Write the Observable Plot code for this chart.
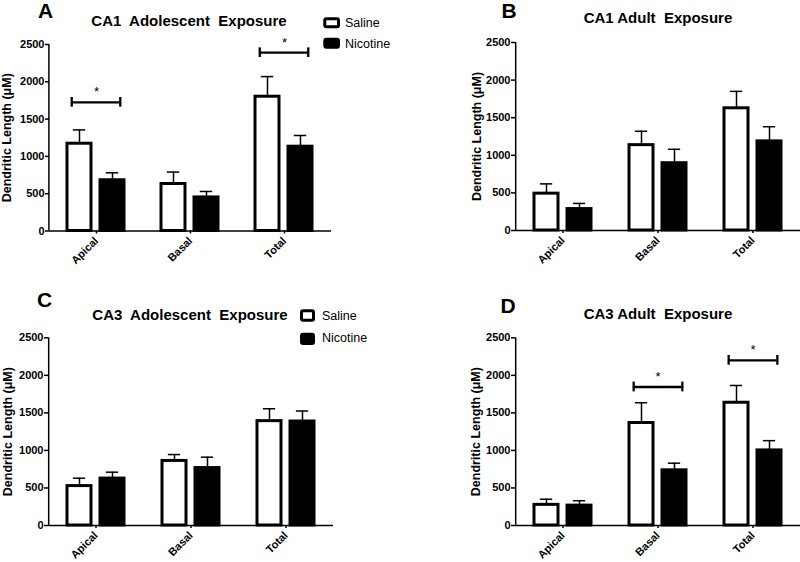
<!DOCTYPE html>
<html><head><meta charset="utf-8">
<script src="https://cdn.jsdelivr.net/npm/d3@7"></script>
<script src="https://cdn.jsdelivr.net/npm/@observablehq/plot@0.6"></script>
<style>
body{margin:0;background:#fff}
#wrap{position:relative;width:800px;height:562px;font-family:"Liberation Sans",Arial,sans-serif;overflow:hidden}
.panel{position:absolute}
#overlay{position:absolute;left:0;top:0;pointer-events:none}
</style></head><body><div id="wrap"></div>
<script>
const categories = ["Apical", "Basal", "Total"];
const groups = ["Saline", "Nicotine"];
const yTicks = [0, 500, 1000, 1500, 2000, 2500];

// A: CA1 Adolescent Exposure
const ca1AdolSalineMean = [1170, 630, 1800];
const ca1AdolSalineSem = [185, 160, 270];
const ca1AdolNicotineMean = [680, 450, 1130];
const ca1AdolNicotineSem = [100, 80, 150];
const ca1AdolSigCats = ["Apical", "Total"];
const ca1AdolSigLevel = [1725, 2390];

// B: CA1 Adult Exposure
const ca1AdultSalineMean = [490, 1135, 1625];
const ca1AdultSalineSem = [130, 185, 225];
const ca1AdultNicotineMean = [285, 895, 1185];
const ca1AdultNicotineSem = [75, 185, 195];
const ca1AdultSigCats = [];
const ca1AdultSigLevel = [];

// C: CA3 Adolescent Exposure
const ca3AdolSalineMean = [525, 860, 1390];
const ca3AdolSalineSem = [105, 85, 165];
const ca3AdolNicotineMean = [625, 765, 1385];
const ca3AdolNicotineSem = [85, 145, 140];
const ca3AdolSigCats = [];
const ca3AdolSigLevel = [];

// D: CA3 Adult Exposure
const ca3AdultSalineMean = [275, 1365, 1635];
const ca3AdultSalineSem = [75, 270, 230];
const ca3AdultNicotineMean = [265, 735, 1000];
const ca3AdultNicotineSem = [65, 95, 130];
const ca3AdultSigCats = ["Basal", "Total"];
const ca3AdultSigLevel = [1845, 2200];

const titles = ["CA1  Adolescent  Exposure", "CA1 Adult  Exposure", "CA3  Adolescent  Exposure", "CA3 Adult  Exposure"];
const letters = ["A", "B", "C", "D"];
const yLabel = "Dendritic Length (\u03bcM)";

function rowsOf(sM, sS, nM, nS) {
  const rows = [];
  categories.forEach((c, i) => {
    rows.push({category: c, group: "Saline", mean: sM[i], sem: sS[i]});
    rows.push({category: c, group: "Nicotine", mean: nM[i], sem: nS[i]});
  });
  return rows;
}
function sigOf(cats, levels) { return cats.map((c, i) => ({category: c, y: levels[i]})); }

const font = '"Liberation Sans", Arial, sans-serif';

function panel(cfg, rows, sig) {
  const pi = 0.26, po = 0.553;
  const step = (400 - cfg.ml - cfg.mr) / 3;
  const xstep = step / (2 - pi + 2 * po);
  const bw = xstep * (1 - pi);
  const capInset = (bw - 13) / 2;
  const brInset = 4.5;
  const capDx = bw / 2 - brInset;
  const axisDx = -(xstep * po + bw / 2);
  return Plot.plot({
    width: 400, height: 281,
    marginLeft: cfg.ml, marginRight: cfg.mr, marginTop: cfg.mt, marginBottom: cfg.mb,
    style: {fontFamily: font, fontSize: "11px", fontWeight: "bold", background: "transparent", color: "black", overflow: "visible"},
    fx: {domain: categories, padding: 0},
    x: {domain: groups, paddingInner: pi, paddingOuter: po, axis: null},
    y: {domain: [0, 2500]},
    color: {domain: groups, range: ["white", "black"]},
    marks: [
      Plot.axisY({ticks: yTicks, tickSize: 4, tickPadding: 1, label: null, tickFormat: d => String(d), strokeWidth: 1.5}),
      Plot.axisY({ticks: [], tickSize: 0, label: yLabel, labelAnchor: "center", labelOffset: cfg.lo, labelArrow: "none", fontSize: 12.5}),
      Plot.axisFx({anchor: "bottom", tickRotate: -45, tickSize: 3, tickPadding: 5, label: null, strokeWidth: 1.5}),
      // y axis line (leftmost facet only)
      Plot.ruleX([{category: categories[0]}], {fx: "category", x: () => groups[0], y1: 0, y2: 2500, dx: axisDx, strokeWidth: 1.5}),
      Plot.ruleY([0], {strokeWidth: 1.5}),
      Plot.ruleX(rows, {fx: "category", x: "group", y1: "mean", y2: d => d.mean + d.sem, strokeWidth: 1.5}),
      Plot.tickY(rows, {fx: "category", x: "group", y: d => d.mean + d.sem, strokeWidth: 1.5, insetLeft: capInset, insetRight: capInset}),
      Plot.barY(rows, {fx: "category", x: "group", y: "mean", fill: "group", stroke: "black", strokeWidth: 3}),
      Plot.ruleY(sig, {fx: "category", x1: () => "Saline", x2: () => "Nicotine", y: "y", strokeWidth: 2.3, insetLeft: brInset, insetRight: brInset}),
      Plot.ruleX(sig, {fx: "category", x: () => "Saline", y1: d => d.y - 65, y2: d => d.y + 65, dx: -capDx, strokeWidth: 2.3}),
      Plot.ruleX(sig, {fx: "category", x: () => "Nicotine", y1: d => d.y - 65, y2: d => d.y + 65, dx: capDx, strokeWidth: 2.3}),
      Plot.text(sig, {fx: "category", y: "y", text: () => "*", dy: -10, fontSize: 13, fontWeight: "normal"})
    ]
  });
}

const wrap = document.getElementById("wrap");
const configs = [
  {left: 0, top: 0, ml: 48, mr: 69, mt: 44, mb: 50.5, lo: 47},
  {left: 400, top: 0, ml: 115, mr: 0, mt: 42, mb: 51, lo: 43},
  {left: 0, top: 281, ml: 48, mr: 67, mt: 56.3, mb: 37, lo: 45},
  {left: 400, top: 281, ml: 115, mr: 0, mt: 56.3, mb: 37, lo: 44}
];
const data = [
  [rowsOf(ca1AdolSalineMean, ca1AdolSalineSem, ca1AdolNicotineMean, ca1AdolNicotineSem), sigOf(ca1AdolSigCats, ca1AdolSigLevel)],
  [rowsOf(ca1AdultSalineMean, ca1AdultSalineSem, ca1AdultNicotineMean, ca1AdultNicotineSem), sigOf(ca1AdultSigCats, ca1AdultSigLevel)],
  [rowsOf(ca3AdolSalineMean, ca3AdolSalineSem, ca3AdolNicotineMean, ca3AdolNicotineSem), sigOf(ca3AdolSigCats, ca3AdolSigLevel)],
  [rowsOf(ca3AdultSalineMean, ca3AdultSalineSem, ca3AdultNicotineMean, ca3AdultNicotineSem), sigOf(ca3AdultSigCats, ca3AdultSigLevel)]
];
configs.forEach((cfg, i) => {
  const p = panel(cfg, data[i][0], data[i][1]);
  p.classList.add("panel");
  p.style.left = cfg.left + "px";
  p.style.top = cfg.top + "px";
  wrap.appendChild(p);
});

// overlay: titles, panel letters, legends
const svg = d3.select(wrap).append("svg").attr("id", "overlay").attr("width", 800).attr("height", 562)
  .style("font-family", font);
const titlePos = [[189, 26], [658, 23.3], [190, 320], [658, 319.3]];
titles.forEach((t, i) => {
  svg.append("text").attr("x", titlePos[i][0]).attr("y", titlePos[i][1]).attr("text-anchor", "middle")
    .attr("font-size", 15).attr("font-weight", "bold").attr("xml:space", "preserve").style("white-space", "pre").text(t);
});
const letterPos = [[38, 17.5], [501.5, 17.5], [37, 306.7], [500.5, 313.3]];
letters.forEach((t, i) => {
  svg.append("text").attr("x", letterPos[i][0]).attr("y", letterPos[i][1])
    .attr("font-size", 21).attr("font-weight", "bold").text(t);
});
const legends = [
  {sx: 324.8, sy: [18.8, 37.7], sw: 13.7, sh: 8, tx: 345, ty: [27.2, 47.8]},
  {sx: 301.5, sy: [310.8, 332.7], sw: 12, sh: 9.4, tx: 322, ty: [319.5, 341.8]}
];
legends.forEach(L => {
  groups.forEach((g, j) => {
    if (j === 0) {
      svg.append("rect").attr("x", L.sx).attr("y", L.sy[0]).attr("width", L.sw).attr("height", L.sh)
        .attr("rx", 1.5).attr("fill", "white").attr("stroke", "black").attr("stroke-width", 3);
    } else {
      svg.append("rect").attr("x", L.sx - 1.5).attr("y", L.sy[1]).attr("width", L.sw + 3).attr("height", L.sh + 3)
        .attr("rx", 3).attr("fill", "black");
    }
    svg.append("text").attr("x", L.tx).attr("y", L.ty[j]).attr("font-size", 12.5).text(g);
  });
});
</script></body></html>
